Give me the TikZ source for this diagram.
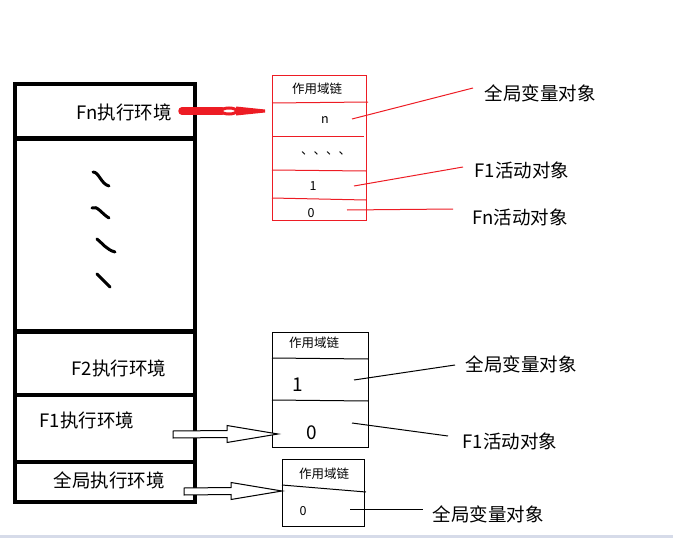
\documentclass[tikz,border=0pt]{standalone}
\usepackage{fontspec}
\setmainfont{Noto Sans CJK SC}
\usepackage{tikz}
\usetikzlibrary{
  positioning,
  calc
}
\definecolor{PaintRed}{RGB}{237,28,36}
\definecolor{BarGray}{RGB}{214,219,233}
\newcommand{\hollowarrow}[2]{%
  \draw[hollow] ($(#1)+(0,-3.5)$) -- ($(#2)+(-51,-3.5)$) -- ($(#2)+(-51,-8.5)$)
    -- (#2) -- ($(#2)+(-51,8.5)$) -- ($(#2)+(-51,3.5)$) -- ($(#1)+(0,3.5)$) -- cycle;}
\tikzset{
  %%── 执行环境栈 ─────────────────────────────────────────────
  stackline/.style = {line width = 4.5pt, draw = black},
  envlbl/.style    = {inner sep = 0pt, font = \fontsize{18.5}{20}\selectfont},
  squig/.style     = {line width = 3pt, line cap = round},
  %%── 作用域链盒子 ───────────────────────────────────────────
  chainline/.style = {line width = 1pt, draw = #1},
  chainhead/.style = {inner sep = 0pt, font = \fontsize{12.5}{14}\selectfont},
  cellsm/.style    = {inner sep = 0pt, font = \fontsize{12.5}{14}\selectfont},
  cellbig/.style   = {inner sep = 0pt, font = \fontsize{19}{21}\selectfont},
  %%── 变量对象标签 ───────────────────────────────────────────
  objlbl/.style    = {inner sep = 0pt, font = \fontsize{18.5}{20}\selectfont},
  ptr/.style       = {line width = 1pt, draw = #1},
  hollow/.style    = {line width = 1pt, draw = black, fill = white},
}

\begin{document}
\begin{tikzpicture}[x = 1pt, y = -1pt]
  \useasboundingbox (0,0) rectangle (673,538);
  \fill[BarGray] (0,535) rectangle (673,538);

  %% ── 执行环境栈 ─────────────────────────────────────
  \draw[stackline] (15,84) rectangle (195,502);
  \draw[stackline] (15,138.5) -- (197,138.5);
  \draw[stackline] (15,331.5) -- (197,331.5);
  \draw[stackline] (15,395)   -- (197,395);
  \draw[stackline] (15,462)   -- (197,462);

  \node[envlbl] (envFn)     at (124,112) {Fn执行环境};
  \node[envlbl] (envF2)     at (119,368) {F2执行环境};
  \node[envlbl] (envF1)     at (87,420)  {F1执行环境};
  \node[envlbl] (envGlobal) at (109,480) {全局执行环境};

  %% 省略号（手绘波浪）
  \draw[squig] (93,172) .. controls (99,172) and (101,184) .. (109,186);
  \draw[squig] (92,208) .. controls (97,205) and (102,214) .. (109,218);
  \draw[squig] (97,239) .. controls (102,243) and (107,250) .. (115,252);
  \draw[squig] (97,274) -- (110,287);

  %% ── Fn 的作用域链（红）───────────────────────────────
  \draw[chainline=PaintRed] (272,75) rectangle (366,220);
  \draw[chainline=PaintRed] (272,103) -- (368,102);
  \draw[chainline=PaintRed] (272,136) -- (364,136);
  \draw[chainline=PaintRed] (272,170) -- (366,171);
  \draw[chainline=PaintRed] (272,198) -- (366,200);
  \node[chainhead] (chainFn) at (317,89)  {作用域链};
  \node[cellsm]    (fnN)     at (325,120) {n};
  \node[cellsm]    (fnDots)  at (326,153) {、、、、};
  \node[cellsm]    (fn1)     at (313,186) {1};
  \node[cellsm]    (fn0)     at (311,213) {0};

  %% 红色粗箭头
  \coordinate (fnArrA) at (182,111);
  \coordinate (fnArrB) at (222,111);
  \draw[PaintRed, line width = 7.5pt, line cap = round] (fnArrA) -- (fnArrB);
  \fill[PaintRed] (236,106.5) -- (265,109.5) -- (265,112.5) -- (236,115.5) -- cycle;
  \draw[PaintRed, line width = 3pt, fill = white] (229,111) ellipse [x radius = 7.5, y radius = 3];

  \node[objlbl] (gvTop) at (540,93)  {全局变量对象};
  \node[objlbl] (f1Top) at (522,170) {F1活动对象};
  \node[objlbl] (fnTop) at (520,217) {Fn活动对象};
  \coordinate (gvTopEnd) at (473,88);
  \coordinate (f1TopEnd) at (463,167);
  \coordinate (fnTopEnd) at (453,209);
  \draw[ptr=PaintRed] (352,119) -- (gvTopEnd);
  \draw[ptr=PaintRed] (354,186) -- (f1TopEnd);
  \draw[ptr=PaintRed] (347,210) -- (fnTopEnd);

  %% ── F1 的作用域链 ─────────────────────────────────────
  \draw[chainline=black] (272,332) rectangle (368,447);
  \draw[chainline=black] (272,358) -- (368,359);
  \draw[chainline=black] (272,400) -- (368,401);
  \node[chainhead] (chainF1) at (314,343) {作用域链};
  \node[cellbig]   (f1One)   at (298,385) {1};
  \node[cellbig]   (f1Zero)  at (312,433) {0};

  \node[objlbl] (gvMid) at (521,364) {全局变量对象};
  \node[objlbl] (f1Mid) at (510,441) {F1活动对象};
  \coordinate (gvMidEnd) at (455,365);
  \coordinate (f1MidEnd) at (448,436);
  \draw[ptr=black] (354,380) -- (gvMidEnd);
  \draw[ptr=black] (352,423) -- (f1MidEnd);

  \coordinate (f1Tail) at (173,434.5);
  \coordinate (f1Tip)  at (278,434);
  \hollowarrow{f1Tail}{f1Tip}

  %% ── 全局的作用域链 ───────────────────────────────────
  \draw[chainline=black] (282,459) rectangle (364,526);
  \draw[chainline=black] (282,485) -- (366,492);
  \node[chainhead] (chainGlobal) at (324,474) {作用域链};
  \node[cellsm]    (glZero)      at (303,511) {0};

  \node[objlbl] (gvLow) at (488,514) {全局变量对象};
  \coordinate (gvLowEnd) at (423,509);
  \draw[ptr=black] (350,509) -- (gvLowEnd);

  \coordinate (glTail) at (184,491.5);
  \coordinate (glTip)  at (282,491);
  \hollowarrow{glTail}{glTip}

\end{tikzpicture}
\end{document}
